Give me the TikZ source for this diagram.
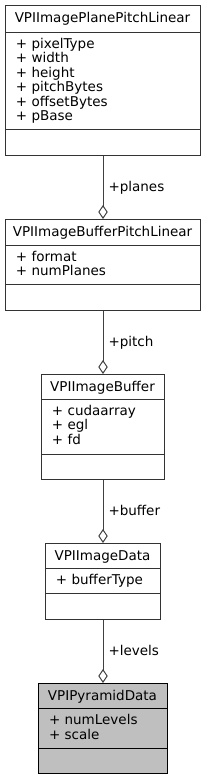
\documentclass[tikz,border=0pt]{standalone}
\usepackage{fontspec}
\setmainfont{DejaVu Sans}
\usetikzlibrary{arrows.meta}
\definecolor{edgegray}{HTML}{404040}
\definecolor{boxgray}{HTML}{333333}
\definecolor{hifill}{HTML}{BFBFBF}
\tikzset{
  classbox/.style={draw=boxgray, line width=1pt, fill=white, inner sep=0pt, anchor=north west},
  hibox/.style={classbox, draw=black, fill=hifill},
  sepline/.style={draw=boxgray, line width=1pt},
  txt/.style={inner sep=0pt, outer sep=0pt, font=\fontsize{13.5}{14.5}\selectfont},
  ttl/.style={txt, anchor=base},
  attr/.style={txt, anchor=base west},
  lbl/.style={txt, anchor=base west, xshift=5.5pt, yshift=-3.5pt},
  agg/.style={draw=edgegray, line width=1pt, -{Diamond[open, length=14pt, width=9.5pt]}}
}
\begin{document}
\begin{tikzpicture}[x=1pt, y=-1pt]
\useasboundingbox (0,0) rectangle (205,780);
% Box 1
\node[classbox, minimum width=195pt, minimum height=150pt] (b1) at (5,5) {};
\draw[sepline] (5,32) -- (200,32);
\draw[sepline] (5,129) -- (200,129);
\node[ttl] (b1t) at (102.5,22.5) {VPIImagePlanePitchLinear};
\node[attr] (b1a1) at (16,48) {+ pixelType};
\node[attr] (b1a2) at (16,62.5) {+ width};
\node[attr] (b1a3) at (16,77) {+ height};
\node[attr] (b1a4) at (16,91.5) {+ pitchBytes};
\node[attr] (b1a5) at (16,106) {+ offsetBytes};
\node[attr] (b1a6) at (16,120.5) {+ pBase};
% Box 2
\node[classbox, minimum width=195pt, minimum height=91pt] (b2) at (5,219) {};
\draw[sepline] (5,245) -- (200,245);
\draw[sepline] (5,284) -- (200,284);
\node[ttl] (b2t) at (102.5,236.5) {VPIImageBufferPitchLinear};
\node[attr] (b2a1) at (16,261) {+ format};
\node[attr] (b2a2) at (16,275.5) {+ numPlanes};
% Box 3
\node[classbox, minimum width=123pt, minimum height=105pt] (b3) at (41,374) {};
\draw[sepline] (41,399) -- (164,399);
\draw[sepline] (41,454) -- (164,454);
\node[ttl] (b3t) at (102.5,391) {VPIImageBuffer};
\node[attr] (b3a1) at (52,415) {+ cudaarray};
\node[attr] (b3a2) at (52,429.5) {+ egl};
\node[attr] (b3a3) at (52,444) {+ fd};
% Box 4
\node[classbox, minimum width=115pt, minimum height=76pt] (b4) at (45,543) {};
\draw[sepline] (45,568) -- (160,568);
\draw[sepline] (45,593) -- (160,593);
\node[ttl] (b4t) at (102.5,560) {VPIImageData};
\node[attr] (b4a1) at (56,584.5) {+ bufferType};
% Box 5
\node[hibox, minimum width=129pt, minimum height=90pt] (b5) at (38,683) {};
\draw[sepline, draw=black] (38,708) -- (167,708);
\draw[sepline, draw=black] (38,748) -- (167,748);
\node[ttl] (b5t) at (102.5,700) {VPIPyramidData};
\node[attr] (b5a1) at (49,724.5) {+ numLevels};
\node[attr] (b5a2) at (49,739) {+ scale};
% Connectors
\draw[agg] (b1.south) -- node[lbl] (l1) {+planes} (b2.north);
\draw[agg] (b2.south) -- node[lbl] (l2) {+pitch} (b3.north);
\draw[agg] (b3.south) -- node[lbl] (l3) {+buffer} (b4.north);
\draw[agg] (b4.south) -- node[lbl] (l4) {+levels} (b5.north);
\end{tikzpicture}
\end{document}
